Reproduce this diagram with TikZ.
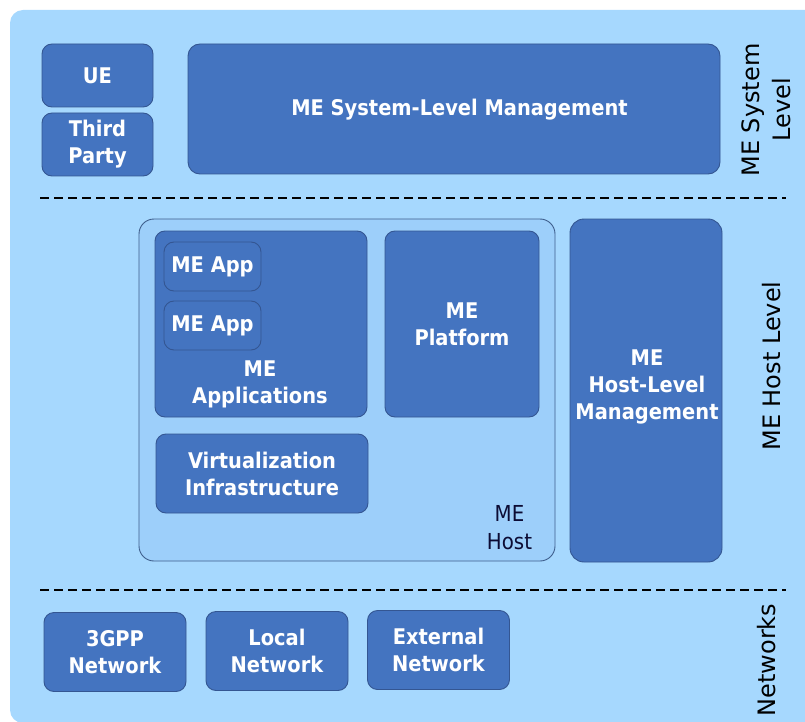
\documentclass[tikz,border=0pt]{standalone}
\usepackage{fontspec}
\setmainfont{DejaVu Sans}
\newfontfamily\condfont{DejaVu Sans Condensed}

\definecolor{bgblue}{RGB}{166,216,254}
\definecolor{hostblue}{RGB}{157,207,250}
\definecolor{boxblue}{RGB}{68,116,192}
\definecolor{boxedge}{RGB}{52,86,146}
\definecolor{hostedge}{RGB}{62,94,140}
\definecolor{navy}{RGB}{12,12,52}

\begin{document}
\begin{tikzpicture}[x=1pt,y=-1pt,
	lbl/.style={text=white,font=\condfont\fontsize{21.6}{27}\selectfont\bfseries,align=center},
	blk/.style={draw=boxedge,fill=boxblue,line width=0.9,rounded corners=10,lbl,inner sep=0},
	side/.style={rotate=90,font=\fontsize{24}{31}\selectfont,align=center,inner sep=0},
	sep/.style={line width=2,dash pattern=on 9pt off 5pt}]

\useasboundingbox (0,0) rectangle (805,722);
\clip (0,0) rectangle (805,722);

\def\nw{142}
\def\nh{79}
\def\ny{652}

\fill[bgblue,rounded corners=13] (10,10) rectangle (830,723);

% system level
\node[blk,minimum width=111pt,minimum height=63pt] (ue) at (97.5,75.5) {UE};
\node[blk,minimum width=111pt,minimum height=63pt] (third) at (97.5,144.5) {Third\\Party};
\node[blk,minimum width=532pt,minimum height=130pt,rounded corners=12] (sysmgmt) at (454,109) {};
\node[lbl] (sysmgmtlbl) at (459.5,110) {ME System-Level Management};

\draw[sep] (40,198)--(786,198);

% host level
\node[draw=hostedge,fill=hostblue,line width=0.9,rounded corners=15,
	minimum width=416pt,minimum height=342pt] (host) at (347,390) {};
\node[blk,minimum width=212pt,minimum height=186pt] (apps) at (261,324) {};
\node[blk,minimum width=97pt,minimum height=49pt] (app1) at (212.5,266.5) {ME App};
\node[blk,minimum width=97pt,minimum height=49pt] (app2) at (212.5,325.5) {ME App};
\node[lbl] (appslbl) at (260,384) {ME\\Applications};
\node[blk,minimum width=154pt,minimum height=186pt] (platform) at (462,324) {ME\\Platform};
\node[blk,minimum width=212pt,minimum height=79pt] (virt) at (262,473.5) {Virtualization\\Infrastructure};
\node[navy,font=\condfont\fontsize{22}{28}\selectfont,align=center] (hostlbl) at (509.5,528) {ME\\Host};
\node[blk,minimum width=152pt,minimum height=343pt,rounded corners=14] (hostmgmt) at (646,390.5) {};
\node[lbl] (hostmgmtlbl) at (647,387) {ME\\Host-Level\\Management};

\draw[sep] (40,590)--(786,590);

% networks
\node[blk,minimum width=\nw pt,minimum height=\nh pt] (net3gpp) at (115,\ny) {3GPP\\Network};
\node[blk,minimum width=\nw pt,minimum height=\nh pt] (netlocal) at (277,\ny-1) {Local\\Network};
\node[blk,minimum width=\nw pt,minimum height=\nh pt] (netext) at (438.5,\ny-2) {External\\Network};
%\node[blk,minimum width=\nw pt,minimum height=\nh pt] at (600,\ny) {};

\node[side] (syslvl) at (766,110) {ME System\\Level};
\node[side] (hostlvl) at (772,366) {ME Host Level};
\node[side] (netlvl) at (767,660) {Networks};

\end{tikzpicture}
\end{document}
